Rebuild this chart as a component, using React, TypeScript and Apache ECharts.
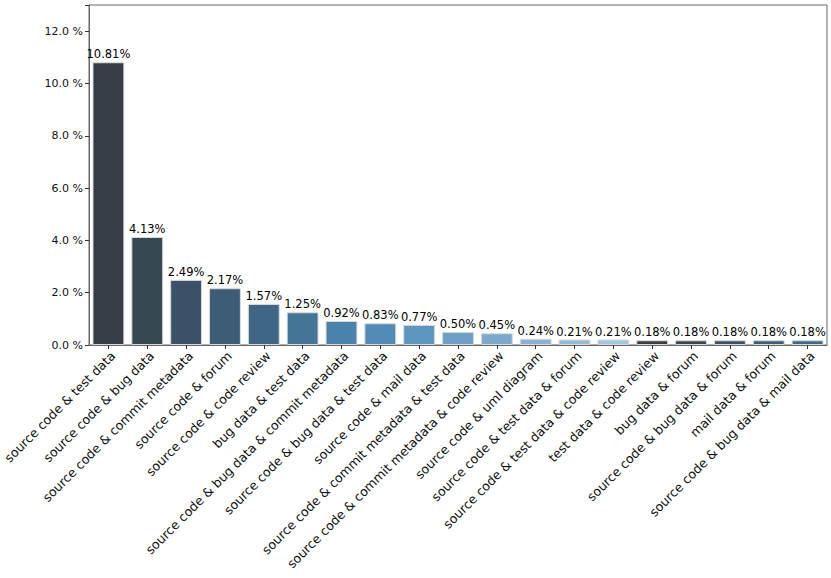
import React, { useEffect, useRef } from "react";
import * as echarts from "echarts";

const categories = [
  "source code & test data",
  "source code & bug data",
  "source code & commit metadata",
  "source code & forum",
  "source code & code review",
  "bug data & test data",
  "source code & bug data & commit metadata",
  "source code & bug data & test data",
  "source code & mail data",
  "source code & commit metadata & test data",
  "source code & commit metadata & code review",
  "source code & uml diagram",
  "source code & test data & forum",
  "source code & test data & code review",
  "test data & code review",
  "bug data & forum",
  "source code & bug data & forum",
  "mail data & forum",
  "source code & bug data & mail data",
];

const values = [
  10.81, 4.13, 2.49, 2.17, 1.57, 1.25, 0.92, 0.83, 0.77, 0.5, 0.45, 0.24, 0.21,
  0.21, 0.18, 0.18, 0.18, 0.18, 0.18,
];

const palette = [
  "#363d45",
  "#374853",
  "#3a5168",
  "#3d5c75",
  "#3f6785",
  "#427596",
  "#4a82ab",
  "#528cb6",
  "#5d96bf",
  "#6ea0c5",
  "#7ba9cb",
  "#88b2d1",
  "#95bbd7",
  "#a3c5dd",
];

const yTicks = [0, 2, 4, 6, 8, 10, 12];

export default function App() {
  const ref = useRef<HTMLDivElement>(null);
  useEffect(() => {
    if (!ref.current) return;
    const chart = echarts.init(ref.current, null, { renderer: "svg" });
    const font = "DejaVu Sans";
    chart.setOption({
      animation: false,
      textStyle: { fontFamily: font },
      grid: {
        left: 89,
        right: 4,
        top: 5,
        bottom: 233,
        show: true,
        borderColor: "#666",
        borderWidth: 1,
        outerBoundsMode: "none",
      },
      xAxis: [
        {
          type: "category",
          data: categories,
          axisLine: {
            show: true,
            onZero: false,
            lineStyle: { color: "#666", width: 1 },
          },
          axisTick: {
            show: true,
            alignWithLabel: true,
            length: 4,
            lineStyle: { color: "#333" },
          },
          axisLabel: {
            interval: 0,
            rotate: 45,
            fontSize: 12.6,
            color: "#111",
            fontFamily: font,
            margin: 4,
            verticalAlign: "top",
          },
        },
      ],
      yAxis: [
        {
          type: "value",
          min: 0,
          max: 13,
          interval: 2,
          splitLine: { show: false },
          axisLine: {
            show: true,
            onZero: false,
            lineStyle: { color: "#666", width: 1 },
          },
          axisTick: { show: true, length: 4, lineStyle: { color: "#333" } },
          axisLabel: {
            fontSize: 11,
            color: "#111",
            fontFamily: font,
            margin: 6,
            formatter: (v: number) =>
              yTicks.includes(v) ? `${v.toFixed(1)} %` : "",
          },
        },
      ],
      series: [
        {
          type: "bar",
          data: values.map((v, i) => ({
            value: v,
            itemStyle: { color: palette[i % palette.length] },
          })),
          barCategoryGap: "18%",
          itemStyle: { borderColor: "#d9d9d9", borderWidth: 1 },
          label: {
            show: true,
            position: "top",
            distance: 2,
            fontSize: 11.5,
            color: "#000",
            fontFamily: font,
            formatter: (p: any) => `${p.value.toFixed(2)}%`,
          },
        },
      ],
    });
    return () => chart.dispose();
  }, []);
  return (
    <div
      ref={ref}
      style={{ position: "absolute", left: 0, top: 0, width: 831, height: 578 }}
    />
  );
}
